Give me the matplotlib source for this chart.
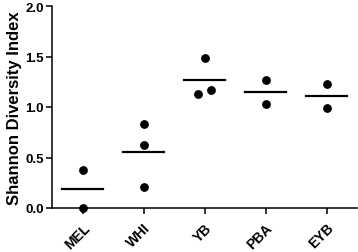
import numpy as np
import matplotlib.pyplot as plt

plt.rcParams['font.family'] = ['Liberation Sans', 'DejaVu Sans']
plt.rcParams['font.weight'] = 'bold'

# grupos y valores del indice de Shannon
grupos = ["MEL", "WHI", "YB", "PBA", "EYB"]
valores = [
    [0.376, 0.0],
    [0.835, 0.624, 0.205],
    [1.488, 1.129, 1.171],
    [1.267, 1.027],
    [1.228, 0.987],
]

fig = plt.figure(figsize=(3.58, 2.53), dpi=100)
ax = fig.add_axes([52 / 358, 1 - 209 / 253, 305 / 358, 202 / 253])

for i, vals in enumerate(valores):
    vals = np.array(vals)
    # separamos un poco los puntos que casi se solapan (como hace Prism)
    xs = np.full(len(vals), float(i))
    for j in range(len(vals)):
        cerca = [k for k in range(len(vals)) if abs(vals[k] - vals[j]) < 0.08]
        if len(cerca) > 1:
            pos = cerca.index(j)
            xs[j] = i + (pos - (len(cerca) - 1) / 2) * 0.2
    ax.scatter(xs, vals, s=40, color='black', zorder=3, clip_on=False, linewidths=0)
    media = vals.mean()
    ax.plot([i - 0.33, i + 0.33], [media, media], color='black', lw=1.6)

ax.set_xlim(-0.5, 4.5)
ax.set_ylim(0, 2.0)
ax.set_yticks([0, 0.5, 1.0, 1.5, 2.0])
ax.set_yticklabels(["0.0", "0.5", "1.0", "1.5", "2.0"], fontsize=9.5, fontweight='bold')
ax.set_xticks(range(len(grupos)))
ax.set_xticklabels(grupos, rotation=45, ha='right', va='top', rotation_mode='anchor',
                   fontsize=10, fontweight='bold')
ax.set_ylabel("Shannon Diversity Index", fontsize=12, fontweight='bold', labelpad=2)

ax.spines['top'].set_visible(False)
ax.spines['right'].set_visible(False)
ax.spines['left'].set_linewidth(1.1)
ax.spines['bottom'].set_linewidth(1.1)
ax.tick_params(width=1.1, length=4, pad=2)
ax.tick_params(axis='x', pad=5)

fig.savefig("out.png", dpi=100)
